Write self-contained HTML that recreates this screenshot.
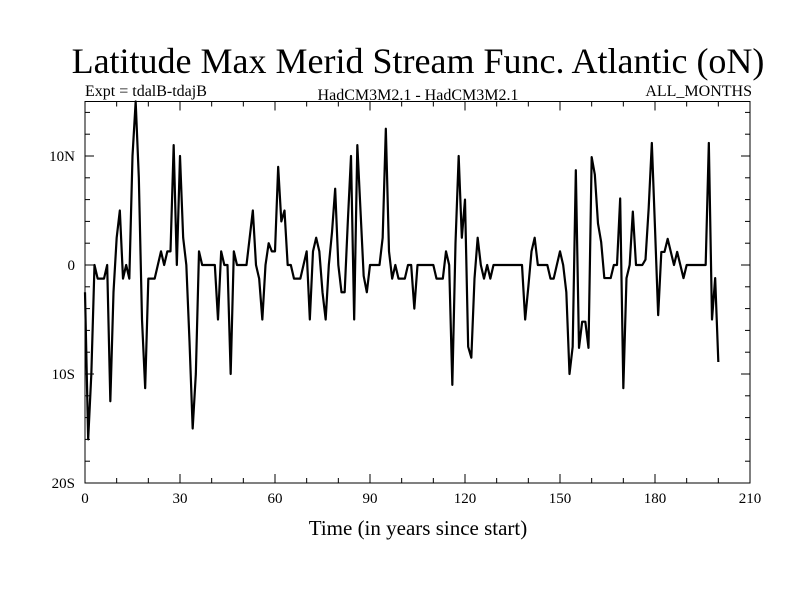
<!DOCTYPE html>
<html><head><meta charset="utf-8"><style>
html,body{margin:0;padding:0;background:#fff;}
svg{display:block;font-family:"Liberation Serif",serif;}
</style></head><body>
<svg id="chart" width="800" height="600" viewBox="0 0 800 600">
<text x="418" y="73" font-size="36" text-anchor="middle">Latitude Max Merid Stream Func. Atlantic (oN)</text>
<text x="85" y="96" font-size="16">Expt = tdalB-tdajB</text>
<text x="418" y="100" font-size="16" text-anchor="middle">HadCM3M2.1 - HadCM3M2.1</text>
<text x="752" y="96" font-size="16" text-anchor="end">ALL_MONTHS</text>
<text x="418" y="535" font-size="21" text-anchor="middle">Time (in years since start)</text>
<g id="axes"></g>
<path id="series" fill="none" stroke="#000" stroke-width="2.2" stroke-linejoin="round"></path>
<rect x="85" y="101.5" width="665" height="381.5" fill="none" stroke="#000" stroke-width="1"></rect>
</svg>
<script>
const values = [-2.5,-16,-10,0,-1.25,-1.25,-1.25,0,-12.5,-2.5,2.5,5,-1.25,0,-1.25,10,15,8,-5,-11.3,
-1.25,-1.25,-1.25,0,1.25,0,1.25,1.25,11,0,10,2.5,0,-7,-15,-10,1.25,0,0,0,
0,0,-5,1.25,0,0,-10,1.25,0,0,0,0,2.5,5,0,-1.25,-5,0,2,1.25,
1.25,9,4,5,0,0,-1.25,-1.25,-1.25,0,1.25,-5,1.25,2.5,1.25,-2.5,-5,0,3,7,
0,-2.5,-2.5,4,10,-5,11,5,-1,-2.5,0,0,0,0,2.5,12.5,1.25,-1.25,0,-1.25,
-1.25,-1.25,0,0,-4,0,0,0,0,0,0,-1.25,-1.25,-1.25,1.25,0,-11,2,10,2.5,
6,-7.5,-8.5,-1.25,2.5,0,-1.25,0,-1.25,0,0,0,0,0,0,0,0,0,0,-5,
-2,1.25,2.5,0,0,0,0,-1.25,-1.25,0,1.25,0,-2.5,-10,-7.5,8.7,-7.6,-5.2,-5.2,-7.6,
9.9,8.3,3.8,2.1,-1.2,-1.2,-1.2,0,0,6.1,-11.3,-1.2,0,4.9,0,0,0,0.5,5.2,11.2,
3.4,-4.6,1.2,1.2,2.4,1.2,0,1.2,0,-1.2,0,0,0,0,0,0,0,11.2,-5,-1.2,-8.9];
const xTickValues = [0,30,60,90,120,150,180,210];
const xTickLabels = ["0","30","60","90","120","150","180","210"];
const yTickValues = [10,0,-10,-20];
const yTickLabels = ["10N","0","10S","20S"];

const X0=85,X1=750,Y0=483,Y1=101.5,xmin=0,xmax=210,ymin=-20,ymax=15;
const sx=v=>X0+(v-xmin)/(xmax-xmin)*(X1-X0);
const sy=v=>Y0-(v-ymin)/(ymax-ymin)*(Y0-Y1);
const NS="http://www.w3.org/2000/svg";
const axes=document.getElementById('axes');
function line(x1,y1,x2,y2,name){const l=document.createElementNS(NS,'line');
l.setAttribute('x1',x1);l.setAttribute('y1',y1);l.setAttribute('x2',x2);l.setAttribute('y2',y2);
l.setAttribute('stroke','#000');l.setAttribute('stroke-width','1');


axes.appendChild(l);}
function text(x,y,s,anchor,name){const t=document.createElementNS(NS,'text');
t.setAttribute('x',x);t.setAttribute('y',y);t.setAttribute('font-size','15');t.setAttribute('text-anchor',anchor);t.textContent=s;


axes.appendChild(t);}
for(let v=xmin;v<=xmax;v+=10){const major=v%30===0;const L=major?9:5;const x=sx(v);
line(x,Y0,x,Y0-L,'x-tick');line(x,Y1,x,Y1+L,'x-tick-top');}
for(let v=ymin;v<=ymax;v+=2){const L=5;const y=sy(v);
line(X0,y,X0+L,y,'y-tick');line(X1,y,X1-L,y,'y-tick-right');}
for(let v of yTickValues){const y=sy(v);line(X0,y,X0+9,y,'y-major-tick');line(X1,y,X1-9,y,'y-major-tick-right');}
xTickValues.forEach((v,i)=>text(sx(v),Y0+20,xTickLabels[i],'middle','x-tick-label'));
yTickValues.forEach((v,i)=>text(X0-10,sy(v)+5,yTickLabels[i],'end','y-tick-label'));
let d='';values.forEach((v,i)=>{d+=(i?'L':'M')+sx(i).toFixed(2)+','+sy(v).toFixed(2);});
document.getElementById('series').setAttribute('d',d);
</script>
</body></html>
